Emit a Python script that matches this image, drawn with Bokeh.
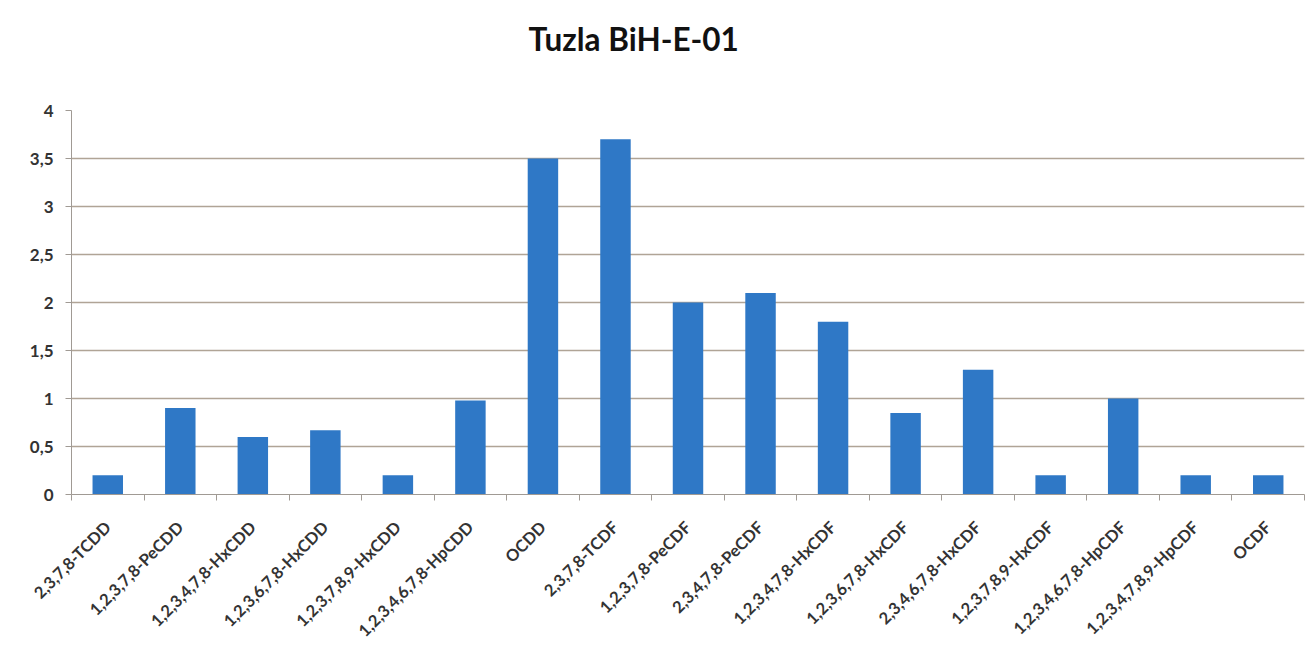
import math
from bokeh.plotting import figure
from bokeh.models import FixedTicker, ColumnDataSource, Range1d, Title
from bokeh.embed import file_html
from bokeh.resources import INLINE

categories = ["2,3,7,8-TCDD", "1,2,3,7,8-PeCDD", "1,2,3,4,7,8-HxCDD", "1,2,3,6,7,8-HxCDD",
              "1,2,3,7,8,9-HxCDD", "1,2,3,4,6,7,8-HpCDD", "OCDD", "2,3,7,8-TCDF",
              "1,2,3,7,8-PeCDF", "2,3,4,7,8-PeCDF", "1,2,3,4,7,8-HxCDF", "1,2,3,6,7,8-HxCDF",
              "2,3,4,6,7,8-HxCDF", "1,2,3,7,8,9-HxCDF", "1,2,3,4,6,7,8-HpCDF", "1,2,3,4,7,8,9-HpCDF",
              "OCDF"]
values = [0.2, 0.9, 0.6, 0.67, 0.2, 0.98, 3.5, 3.7, 2.0, 2.1, 1.8, 0.85, 1.3, 0.2, 1.0, 0.2, 0.2]
y_ticks = [0, 0.5, 1, 1.5, 2, 2.5, 3, 3.5, 4]
y_tick_labels = ["0", "0,5", "1", "1,5", "2", "2,5", "3", "3,5", "4"]
title_text = "Tuzla BiH-E-01"

n = len(categories)
xpos = [i + 0.5 for i in range(n)]
src = ColumnDataSource(dict(x=xpos, top=values, name=categories))

p = figure(width=1306, height=650, output_backend="svg", toolbar_location=None,
           x_range=Range1d(0, n), y_range=Range1d(0, 4),
           min_border_left=71, min_border_right=2, min_border_top=110, min_border_bottom=149)
p.title = None
# spacer between frame and title (closest to the frame)
spacer = Title(text=" ", text_font_size="1px", standoff=40)
p.add_layout(spacer, "above")
t = Title(text=title_text, align="left", offset=457, text_font="Lato", text_font_size="31.5px",
          text_font_style="bold", text_color="#111111", standoff=20)
p.add_layout(t, "above")

p.vbar(x="x", top="top", width=0.42, bottom=0, source=src, color="#2f78c6", line_color=None)

p.outline_line_color = None
p.background_fill_color = "white"
p.border_fill_color = "white"

p.xgrid.grid_line_color = None
p.ygrid.grid_line_color = "#b0a496"
p.ygrid.grid_line_width = 1.5
p.ygrid.ticker = FixedTicker(ticks=y_ticks)

p.yaxis.ticker = FixedTicker(ticks=y_ticks)
p.yaxis.major_label_overrides = {t_: l for t_, l in zip(y_ticks, y_tick_labels)}
p.yaxis.major_label_text_font = "Lato"
p.yaxis.major_label_text_font_style = "bold"
p.yaxis.major_label_text_font_size = "17px"
p.yaxis.major_label_text_color = "#333333"
p.yaxis.axis_line_color = "#a09a94"
p.yaxis.major_tick_line_color = "#a09a94"
p.yaxis.major_tick_out = 6
p.yaxis.major_tick_in = 0
p.yaxis.minor_tick_line_color = None
p.yaxis.major_label_standoff = 12

p.xaxis.ticker = FixedTicker(ticks=xpos, minor_ticks=list(range(n + 1)))
p.xaxis.major_label_overrides = {x: c for x, c in zip(xpos, categories)}
p.xaxis.major_label_orientation = math.pi / 4
p.xaxis.major_label_text_font = "Lato"
p.xaxis.major_label_text_font_style = "bold"
p.xaxis.major_label_text_font_size = "16.5px"
p.xaxis.major_label_text_color = "#333333"
p.xaxis.axis_line_color = "#a09a94"
p.xaxis.major_tick_line_color = None
p.xaxis.minor_tick_line_color = "#a09a94"
p.xaxis.minor_tick_out = 6
p.xaxis.minor_tick_in = 0
p.xaxis.major_label_standoff = 24

open("out.html", "w").write(file_html(p, INLINE))
